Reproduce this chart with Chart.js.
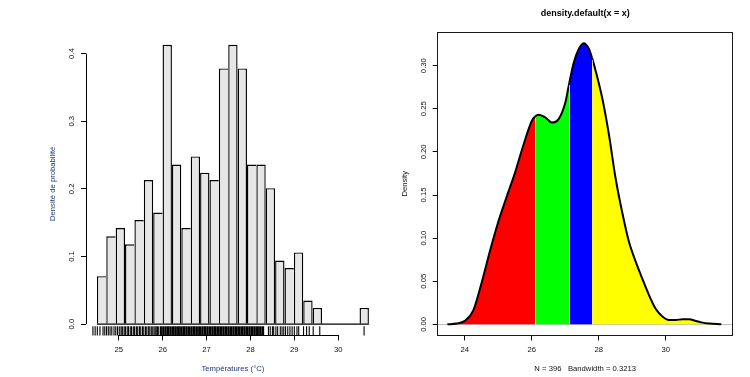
<!DOCTYPE html>
<html>
<head>
<meta charset="utf-8">
<script src="https://cdn.jsdelivr.net/npm/chart.js"></script>
<style>
html, body { margin: 0; padding: 0; background: #ffffff; }
#wrap { position: relative; width: 750px; height: 377px; overflow: hidden; background: #ffffff; }
#c1 { position: absolute; left: 0; top: 0; }
#c2 { position: absolute; left: 380px; top: 0; }
</style>
</head>
<body>
<div id="wrap">
  <canvas id="c1" width="390" height="377"></canvas>
  <canvas id="c2" width="370" height="377"></canvas>
</div>
<script>
// ---------- Left panel: histogram ----------
const histBreaks = [24.500, 24.714, 24.928, 25.141, 25.355, 25.569, 25.783, 25.997, 26.210, 26.424,
                    26.638, 26.852, 27.066, 27.279, 27.493, 27.707, 27.921, 28.134, 28.348, 28.562,
                    28.776, 28.990, 29.203, 29.417, 29.631, 29.845, 30.059, 30.272, 30.486, 30.700];
const histDensity = [0.071, 0.130, 0.142, 0.118, 0.154, 0.213, 0.165, 0.413, 0.236, 0.142,
                     0.248, 0.224, 0.213, 0.378, 0.413, 0.378, 0.236, 0.236, 0.201, 0.094,
                     0.083, 0.106, 0.035, 0.024, 0, 0, 0, 0, 0.024];
const rugValues = [24.41, 24.46, 24.51, 24.57, 24.64, 24.68, 24.72, 24.76, 24.80, 24.84, 24.89, 24.93,
  24.97, 25.01, 25.05, 25.08, 25.12, 25.15, 25.19, 25.22, 25.26, 25.29, 25.33, 25.36, 25.40, 25.43,
  25.47, 25.50, 25.54, 25.57, 25.61, 25.64, 25.68, 25.71, 25.75, 25.78, 25.82, 25.85, 25.88, 25.91,
  25.95, 25.97, 26.00, 26.02, 26.05, 26.07, 26.10, 26.12, 26.14, 26.17, 26.19, 26.22, 26.24, 26.26,
  26.29, 26.31, 26.34, 26.36, 26.38, 26.41, 26.43, 26.46, 26.48, 26.50, 26.53, 26.55, 26.58, 26.60,
  26.62, 26.65, 26.67, 26.70, 26.72, 26.74, 26.77, 26.79, 26.82, 26.84, 26.86, 26.89, 26.91, 26.94,
  26.96, 26.98, 27.01, 27.03, 27.06, 27.08, 27.10, 27.13, 27.15, 27.18, 27.20, 27.22, 27.25, 27.27,
  27.30, 27.32, 27.34, 27.37, 27.39, 27.42, 27.44, 27.46, 27.49, 27.51, 27.54, 27.56, 27.58, 27.61,
  27.63, 27.66, 27.68, 27.70, 27.73, 27.75, 27.78, 27.80, 27.82, 27.85, 27.87, 27.90, 27.92, 27.94,
  27.97, 27.99, 28.02, 28.04, 28.06, 28.09, 28.11, 28.14, 28.16, 28.18, 28.21, 28.23, 28.26, 28.28,
  28.30, 28.41, 28.45, 28.50, 28.53, 28.58, 28.62, 28.68, 28.72, 28.76, 28.80, 28.85, 28.90, 28.95,
  29.00, 29.06, 29.10, 29.21, 29.28, 29.34, 29.43, 29.58, 30.59];
const histXTicks = [25, 26, 27, 28, 29, 30];
const histYTicks = [0, 0.1, 0.2, 0.3, 0.4];

// ---------- Right panel: density ----------
const densX = [23.48, 23.75, 24.00, 24.25, 24.50, 24.75, 25.00, 25.25, 25.50, 25.75, 26.00, 26.10,
               26.20, 26.40, 26.60, 26.80, 27.00, 27.12, 27.25, 27.40, 27.55, 27.70, 27.80, 27.90,
               28.10, 28.30, 28.50, 28.70, 28.90, 29.10, 29.30, 29.50, 29.70, 29.90, 30.10, 30.30,
               30.50, 30.70, 30.90, 31.10, 31.30, 31.66];
const densY = [0.000, 0.001, 0.004, 0.016, 0.048, 0.085, 0.119, 0.148, 0.176, 0.208, 0.236, 0.241,
               0.243, 0.240, 0.234, 0.238, 0.257, 0.280, 0.303, 0.319, 0.326, 0.320, 0.309, 0.295,
               0.263, 0.221, 0.170, 0.130, 0.096, 0.073, 0.053, 0.034, 0.018, 0.009, 0.005, 0.005,
               0.006, 0.006, 0.004, 0.002, 0.001, 0.000];
const quartileBreaks = [26.10, 27.12, 27.80];
const fillColors = ['#FF0000', '#00FF00', '#0000FF', '#FFFF00'];
const densXTicks = [24, 26, 28, 30];
const densYTicks = [0, 0.05, 0.10, 0.15, 0.20, 0.25, 0.30];

const FONT = '"Liberation Sans", Arial, "DejaVu Sans", sans-serif';
const TICK_SIZE = 7.7;
const labelColor = '#203870';
const tickColor = '#111111';

Chart.defaults.font.family = FONT;
Chart.defaults.font.size = TICK_SIZE;
Chart.defaults.color = tickColor;

function crisp(v) { return Math.round(v - 0.5) + 0.5; }

// plugin for R style axes, zero baseline and rug on the histogram
const histPlugin = {
  id: 'histDecor',
  afterDatasetsDraw(chart) {
    const {ctx, chartArea, scales: {x, y}} = chart;
    ctx.save();
    ctx.strokeStyle = '#000';
    ctx.lineWidth = 1.3;
    // baseline of the bars (bottom edges)
    const y0 = y.getPixelForValue(0);
    ctx.beginPath();
    ctx.moveTo(x.getPixelForValue(histBreaks[0]), y0);
    ctx.lineTo(x.getPixelForValue(histBreaks[histBreaks.length - 1]), y0);
    ctx.stroke();
    // rug
    const rugLen = (chartArea.bottom - chartArea.top) * 0.03;
    ctx.lineWidth = 1.1;
    ctx.beginPath();
    for (const v of rugValues) {
      const px = x.getPixelForValue(v);
      ctx.moveTo(px, chartArea.bottom);
      ctx.lineTo(px, chartArea.bottom - rugLen);
    }
    ctx.stroke();
    // axis lines, first to last tick
    ctx.lineWidth = 1;
    const ax = crisp(chartArea.left);
    ctx.beginPath();
    ctx.moveTo(ax, y.getPixelForValue(histYTicks[0]));
    ctx.lineTo(ax, y.getPixelForValue(histYTicks[histYTicks.length - 1]));
    const ay = crisp(chartArea.bottom);
    ctx.moveTo(x.getPixelForValue(histXTicks[0]), ay);
    ctx.lineTo(x.getPixelForValue(histXTicks[histXTicks.length - 1]), ay);
    ctx.stroke();
    ctx.restore();
  }
};

new Chart(document.getElementById('c1'), {
  type: 'bar',
  data: {
    datasets: [{
      data: histDensity.map((d, i) => ({x: (histBreaks[i] + histBreaks[i + 1]) / 2, y: d})),
      backgroundColor: '#E6E6E6',
      borderColor: '#000000',
      borderWidth: (c) => {
        const i = c.dataIndex;
        const needRight = i === histDensity.length - 1 || histDensity[i + 1] < histDensity[i];
        return {top: 1.4, left: 1.4, bottom: 0, right: needRight ? 1.4 : 0};
      },
      borderSkipped: false,
      barPercentage: 1,
      categoryPercentage: 1,
      inflateAmount: 0
    }]
  },
  options: {
    responsive: false,
    animation: false,
    devicePixelRatio: 1,
    layout: {padding: {left: 0, right: 10.2, top: 32.2, bottom: 0}},
    plugins: {legend: {display: false}, tooltip: {enabled: false}, title: {display: false}},
    scales: {
      x: {
        type: 'linear', min: 24.252, max: 30.948, offset: false,
        afterBuildTicks: (s) => { s.ticks = histXTicks.map(v => ({value: v})); },
        afterFit: (s) => { s.height = 41.6; },
        grid: {display: true, offset: false, drawOnChartArea: false, drawTicks: true, tickLength: 5, color: '#000', lineWidth: 1},
        border: {display: false},
        ticks: {padding: 5, color: tickColor, font: {size: TICK_SIZE}, maxRotation: 0, minRotation: 0, autoSkip: false,
                callback: (v) => String(v)},
        title: {display: true, text: 'Températures (°C)', color: labelColor, font: {size: TICK_SIZE}, padding: {top: 0, bottom: 3.4}}
      },
      y: {
        type: 'linear', min: -0.0166, max: 0.4316,
        afterBuildTicks: (s) => { s.ticks = histYTicks.map(v => ({value: v})); },
        afterFit: (s) => { s.width = 86; },
        grid: {display: true, drawOnChartArea: false, drawTicks: true, tickLength: 5, color: '#000', lineWidth: 1},
        border: {display: false},
        ticks: {padding: 4, color: tickColor, font: {size: TICK_SIZE}, minRotation: 90, maxRotation: 90, crossAlign: 'center',
                autoSkip: false, callback: (v) => Number(v).toFixed(1)},
        title: {display: true, text: 'Densité de probabilité', color: labelColor, font: {size: TICK_SIZE}, padding: {top: 48.4, bottom: 0}}
      }
    }
  },
  plugins: [histPlugin]
});

// ---------- density chart ----------
function fillFor(xv) {
  let k = 0;
  for (const b of quartileBreaks) { if (xv >= b - 1e-9) k++; }
  return fillColors[k];
}

const densPlugin = {
  id: 'densDecor',
  beforeDatasetsDraw(chart) {
    const {ctx, chartArea, scales: {y}} = chart;
    ctx.save();
    ctx.strokeStyle = '#BEBEBE';
    ctx.lineWidth = 1;
    const y0 = crisp(y.getPixelForValue(0));
    ctx.beginPath();
    ctx.moveTo(chartArea.left, y0);
    ctx.lineTo(chartArea.right, y0);
    ctx.stroke();
    ctx.restore();
  },
  afterDatasetsDraw(chart) {
    const {ctx, chartArea, scales: {x, y}} = chart;
    ctx.save();
    // light seams between the coloured parts
    ctx.strokeStyle = 'rgba(235,235,235,0.75)';
    ctx.lineWidth = 1;
    ctx.beginPath();
    for (const b of quartileBreaks) {
      const i = densX.indexOf(b);
      if (i < 0) continue;
      const px = crisp(x.getPixelForValue(b));
      ctx.moveTo(px, y.getPixelForValue(0));
      ctx.lineTo(px, y.getPixelForValue(densY[i]) + 2);
    }
    ctx.stroke();
    // box round the plot region
    ctx.strokeStyle = '#1a1a1a';
    ctx.lineWidth = 1;
    const l = crisp(chartArea.left), r = crisp(chartArea.right);
    const t = crisp(chartArea.top), btm = crisp(chartArea.bottom);
    ctx.strokeRect(l, t, r - l, btm - t);
    ctx.restore();
  }
};

new Chart(document.getElementById('c2'), {
  type: 'line',
  data: {
    datasets: [{
      data: densX.map((xv, i) => ({x: xv, y: densY[i]})),
      borderColor: '#000000',
      borderWidth: 2,
      pointRadius: 0,
      fill: 'origin',
      backgroundColor: fillColors[0],
      cubicInterpolationMode: 'monotone',
      segment: {
        backgroundColor: (c) => fillFor(densX[c.p0DataIndex])
      }
    }]
  },
  options: {
    responsive: false,
    animation: false,
    devicePixelRatio: 1,
    layout: {padding: {left: 0, right: 17.3, top: 0, bottom: 0}},
    plugins: {
      legend: {display: false},
      tooltip: {enabled: false},
      title: {display: true, text: 'density.default(x = x)', fullSize: false, color: '#000',
              font: {size: 9, weight: 'bold'}, padding: {top: 8.6, bottom: 12.8}}
    },
    scales: {
      x: {
        type: 'linear', min: 23.19, max: 32.0, offset: false,
        afterBuildTicks: (s) => { s.ticks = densXTicks.map(v => ({value: v})); },
        afterFit: (s) => { s.height = 41.6; },
        grid: {display: true, offset: false, drawOnChartArea: false, drawTicks: true, tickLength: 5, color: '#000', lineWidth: 1},
        border: {display: false},
        ticks: {padding: 5, color: tickColor, font: {size: TICK_SIZE}, maxRotation: 0, minRotation: 0, autoSkip: false,
                callback: (v) => String(v)},
        title: {display: true, text: 'N = 396   Bandwidth = 0.3213', color: '#111', font: {size: TICK_SIZE}, padding: {top: 0, bottom: 3.4}}
      },
      y: {
        type: 'linear', min: -0.0128, max: 0.3388,
        afterBuildTicks: (s) => { s.ticks = densYTicks.map(v => ({value: v})); },
        afterFit: (s) => { s.width = 57.7; },
        grid: {display: true, drawOnChartArea: false, drawTicks: true, tickLength: 5, color: '#000', lineWidth: 1},
        border: {display: false},
        ticks: {padding: 1.7, color: tickColor, font: {size: TICK_SIZE}, minRotation: 90, maxRotation: 90, crossAlign: 'center',
                autoSkip: false, callback: (v) => Number(v).toFixed(2)},
        title: {display: true, text: 'Density', color: '#111', font: {size: TICK_SIZE}, padding: {top: 20.4, bottom: 0}}
      }
    }
  },
  plugins: [densPlugin]
});
</script>
</body>
</html>
